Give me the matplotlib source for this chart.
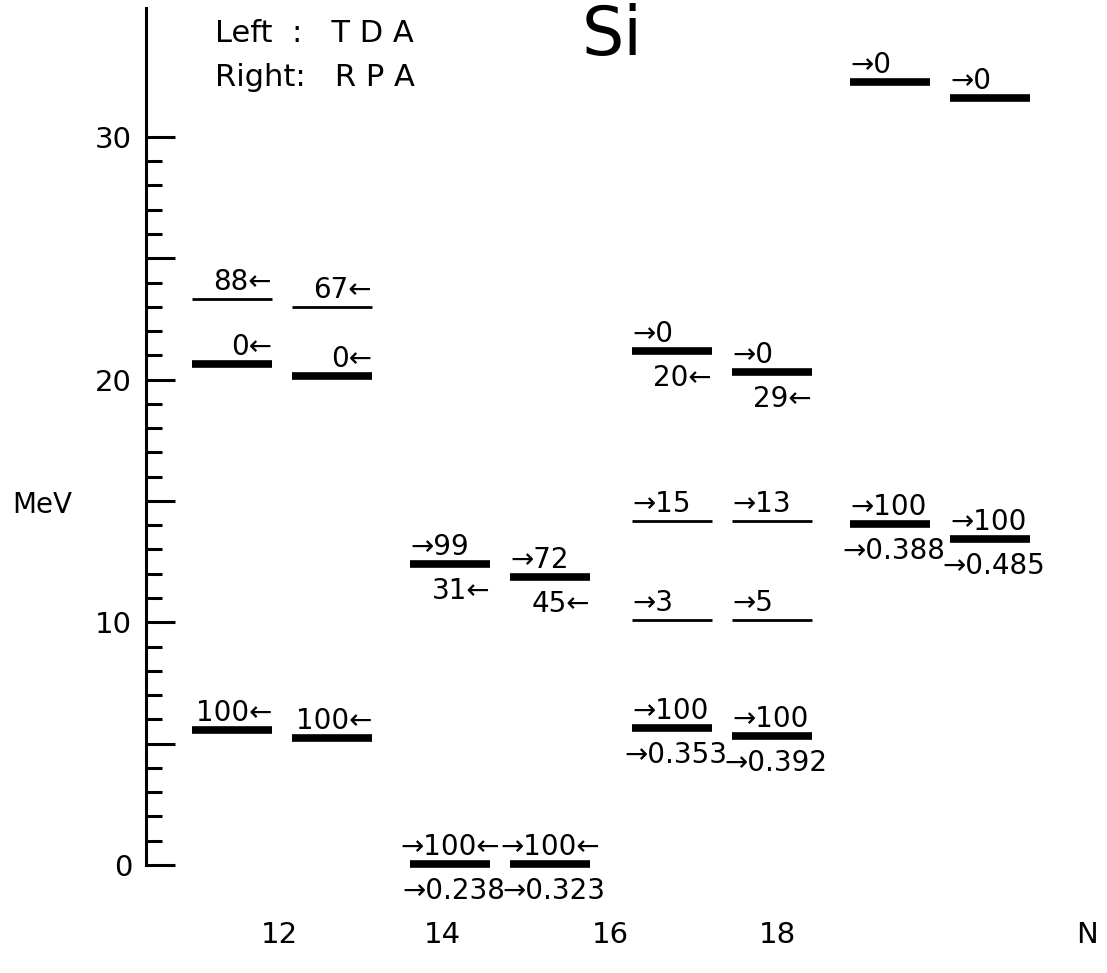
import matplotlib.pyplot as plt
from matplotlib.ticker import FixedLocator, FuncFormatter

# N values and TDA (left) / RPA (right) levels, energies in MeV
n_values = [12, 14, 16, 18]

tda_group = [0, 0, 0, 1, 1, 2, 2, 2, 2, 3, 3]
tda_energy = [5.56, 20.64, 23.32, 0.05, 12.40, 21.18, 14.17, 10.09, 5.64, 32.26, 14.05]
tda_thick = [True, True, False, True, True, True, False, False, True, True, True]
tda_upper = ["100←", "0←", "88←", "→100←", "→99", "→0", "→15", "→3", "→100", "→0", "→100"]
tda_lower = ["", "", "", "→0.238", "31←", "20←", "", "", "→0.353", "", "→0.388"]

rpa_group = [0, 0, 0, 1, 1, 2, 2, 2, 2, 3, 3]
rpa_energy = [5.23, 20.15, 22.99, 0.05, 11.87, 20.31, 14.17, 10.09, 5.31, 31.60, 13.43]
rpa_thick = [True, True, False, True, True, True, False, False, True, True, True]
rpa_upper = ["100←", "0←", "67←", "→100←", "→72", "→0", "→13", "→5", "→100", "→0", "→100"]
rpa_lower = ["", "", "", "→0.323", "45←", "29←", "", "", "→0.392", "", "→0.485"]

# layout (x in figure pixels)
group_x = [282, 500, 722, 940]
n_label_x = [279, 442, 610, 777]
half_w = 40
offset = 50
px = 1 / 24.27  # MeV per pixel

fig = plt.figure(figsize=(11.07, 9.73), dpi=100)
ax = fig.add_axes([0, 0, 1, 1])
ax.set_xlim(0, 1107)
ax.set_ylim(-108 * px, 865 * px)

fs = 20


def label(x0, x1, y, s, above):
    if not s:
        return
    yy = y + 20 * px if above else y - 24 * px
    if s.startswith("→") and s.endswith("←"):
        ax.text((x0 + x1) / 2, yy, s, ha="center", va="center_baseline", fontsize=fs)
    elif s.startswith("→"):
        shift = 0 if above else 8
        ax.text(x0 - shift, yy, s, ha="left", va="center_baseline", fontsize=fs)
    else:
        ax.text(x1, yy, s, ha="right", va="center_baseline", fontsize=fs)


def draw(groups, energies, thick, upper, lower, side):
    for g, e, t, up, lo in zip(groups, energies, thick, upper, lower):
        c = group_x[g] + side * offset
        x0, x1 = c - half_w, c + half_w
        ax.hlines(e, x0, x1, colors="black", lw=5.5 if t else 2.0)
        label(x0, x1, e, up, True)
        label(x0, x1, e, lo, False)


draw(tda_group, tda_energy, tda_thick, tda_upper, tda_lower, -1)
draw(rpa_group, rpa_energy, rpa_thick, rpa_upper, rpa_lower, 1)

# y axis drawn as a free-standing spine
for s in ["top", "right", "bottom"]:
    ax.spines[s].set_visible(False)
ax.spines["left"].set_position(("data", 146))
ax.spines["left"].set_bounds(0, 35.3)
ax.spines["left"].set_linewidth(2.2)
ax.yaxis.set_major_locator(FixedLocator(range(0, 31, 5)))
ax.yaxis.set_minor_locator(FixedLocator([v for v in range(0, 31) if v % 5]))
ax.yaxis.set_major_formatter(FuncFormatter(lambda v, p: f"{v:.0f}" if v % 10 == 0 else ""))
ax.tick_params(axis="y", which="major", direction="in", length=21, width=2.2, pad=10, labelsize=21)
ax.tick_params(axis="y", which="minor", direction="in", length=11.5, width=2.2)
ax.set_xticks([])

# N labels along the bottom
for x, n in zip(n_label_x, n_values):
    ax.text(x, -70 * px, str(n), ha="center", va="center", fontsize=21)
ax.text(1087, -70 * px, "N", ha="center", va="center", fontsize=21)

ax.text(12, 360 * px, "MeV", ha="left", va="center", fontsize=20)
ax.text(612, (865 - 55) * px, "Si", ha="center", va="baseline", fontsize=48)
ax.text(215, (865 - 42) * px, "Left  :   T D A", ha="left", va="baseline", fontsize=22)
ax.text(215, (865 - 86) * px, "Right:   R P A", ha="left", va="baseline", fontsize=22)

fig.savefig("out.png", dpi=100)
